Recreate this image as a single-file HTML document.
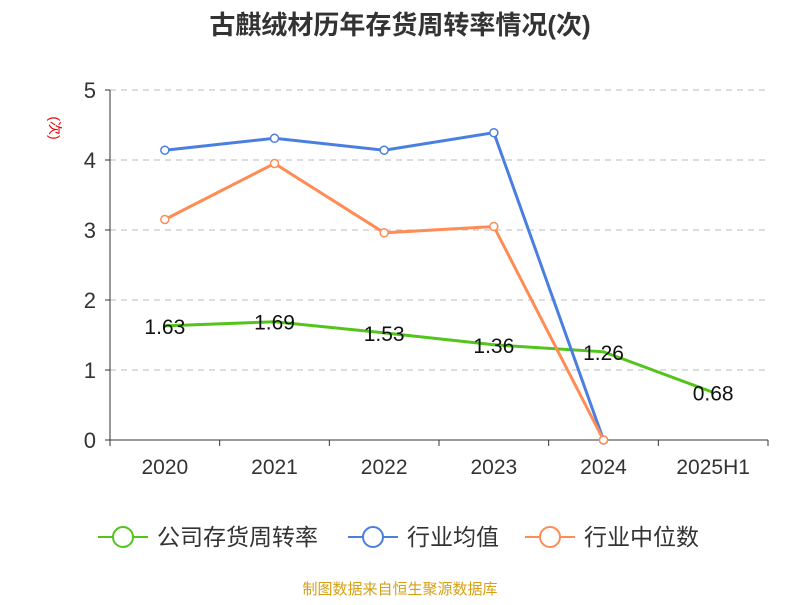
<!DOCTYPE html>
<html><head><meta charset="utf-8"><style>
body{margin:0;background:#fff;font-family:"Liberation Sans","Noto Sans CJK SC",sans-serif;}
</style></head><body>
<svg width="800" height="600" xmlns="http://www.w3.org/2000/svg" font-family="Liberation Sans, Noto Sans CJK SC, sans-serif">
<text x="400" y="34" text-anchor="middle" font-size="26" font-weight="bold" fill="#333">古麒绒材历年存货周转率情况(次)</text>
<text transform="translate(50,128) rotate(90)" font-size="14" fill="#e00" text-anchor="middle">(次)</text>
<g id="grid"></g><g id="axes"></g><g id="series"></g>
<g>
<g><line x1="98" y1="537" x2="148" y2="537" stroke="#52c41a" stroke-width="2"/><circle cx="123" cy="537" r="10" fill="#fff" stroke="#52c41a" stroke-width="2"/><text x="157" y="545" font-size="23" fill="#333">公司存货周转率</text></g>
<g><line x1="348" y1="537" x2="398" y2="537" stroke="#4a7fe0" stroke-width="2"/><circle cx="373" cy="537" r="10" fill="#fff" stroke="#4a7fe0" stroke-width="2"/><text x="407" y="545" font-size="23" fill="#333">行业均值</text></g>
<g><line x1="525" y1="537" x2="575" y2="537" stroke="#ff8c55" stroke-width="2"/><circle cx="550" cy="537" r="10" fill="#fff" stroke="#ff8c55" stroke-width="2"/><text x="584" y="545" font-size="23" fill="#333">行业中位数</text></g>
</g>
<text x="400" y="594" text-anchor="middle" font-size="15" fill="#d4a017">制图数据来自恒生聚源数据库</text>
</svg>
<script>
const categories=["2020","2021","2022","2023","2024","2025H1"];
const companyValues=[1.63,1.69,1.53,1.36,1.26,0.68];
const avgValues=[4.14,4.31,4.14,4.39,0];
const medianValues=[3.15,3.95,2.96,3.05,0];
const yTicks=[0,1,2,3,4,5];
const NS="http://www.w3.org/2000/svg";
const L=110,R=768,T=90,B=440,yMax=5;
const bw=(R-L)/categories.length;
const x=i=>L+bw*(i+0.5);
const y=v=>B-(v/yMax)*(B-T);
function mk(tag,attrs,parent){const e=document.createElementNS(NS,tag);for(const k in attrs)e.setAttribute(k,attrs[k]);parent.appendChild(e);return e;}
const grid=document.getElementById('grid'),axes=document.getElementById('axes'),series=document.getElementById('series');
yTicks.forEach(t=>{
 if(t>0){const g=mk('line',{x1:L,x2:R,y1:y(t),y2:y(t),stroke:'#bbb','stroke-dasharray':'6,5'},grid);
 
 }
 const tk=mk('line',{x1:L-5,x2:L,y1:y(t),y2:y(t),stroke:'#333'},axes);
 
 
 const lb=mk('text',{x:L-14,y:y(t)+8,'text-anchor':'end','font-size':22,fill:'#333'},axes);
 lb.textContent=t;
 
 
});
const ya=mk('line',{x1:L,x2:L,y1:T,y2:B,stroke:'#333'},axes);


const xa=mk('line',{x1:L,x2:R,y1:B,y2:B,stroke:'#333'},axes);


for(let i=0;i<=categories.length;i++){const tk=mk('line',{x1:L+bw*i,x2:L+bw*i,y1:B,y2:B+6,stroke:'#333'},axes);
 
 }
categories.forEach((c,i)=>{const t=mk('text',{x:x(i),y:B+34,'text-anchor':'middle','font-size':21,fill:'#333'},axes);t.textContent=c;
 
 });
function drawLine(vals,color,name,labels){
 const pl=mk('polyline',{points:vals.map((v,i)=>x(i)+','+y(v)).join(' '),fill:'none',stroke:color,'stroke-width':3},series);
 
 
 vals.forEach((v,i)=>{
  if(!labels){const c=mk('circle',{cx:x(i),cy:y(v),r:4,fill:'#fff',stroke:color,'stroke-width':1.5},series);
  
  }
  else{const t=mk('text',{x:x(i),y:y(v)+8,'text-anchor':'middle','font-size':21,fill:'#111'},series);t.textContent=v.toFixed(2);
  
  }
 });
}
drawLine(companyValues,'#52c41a','company',true);
drawLine(avgValues,'#4a7fe0','industry-avg',false);
drawLine(medianValues,'#ff8c55','industry-median',false);
</script>
</body></html>
